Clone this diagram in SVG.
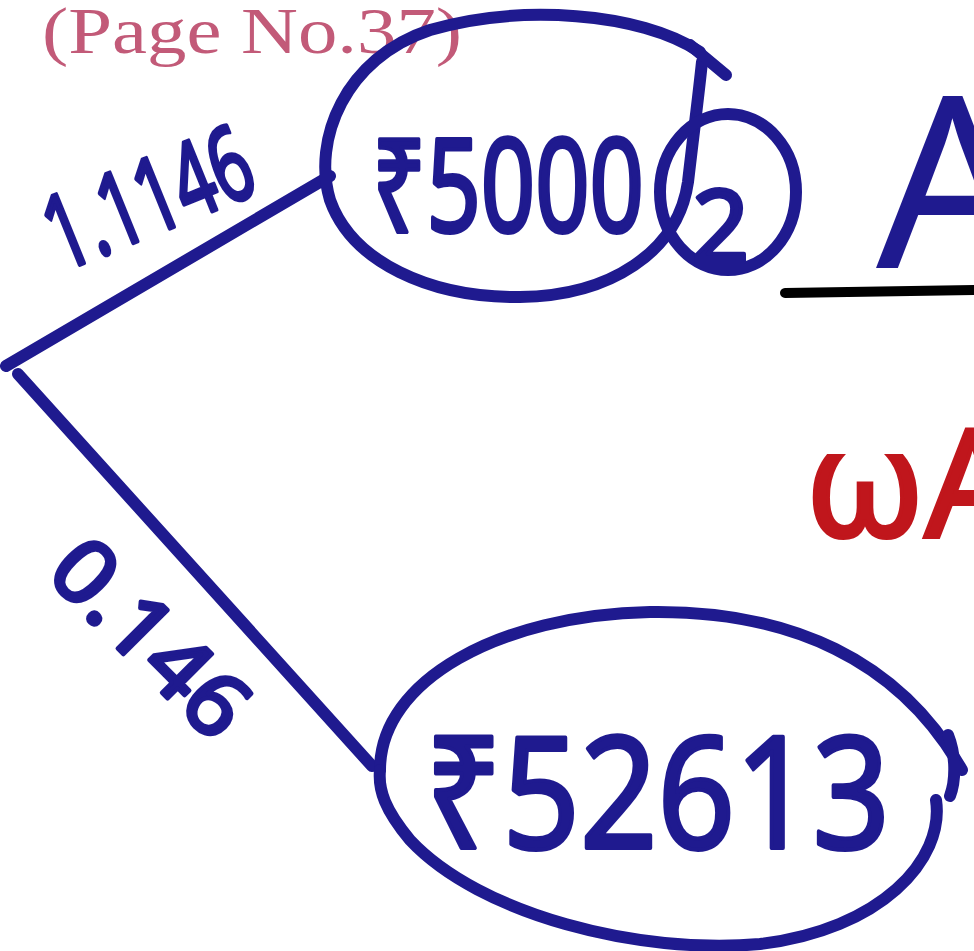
<svg xmlns="http://www.w3.org/2000/svg" width="974" height="951" viewBox="0 0 974 951">
<style>
.ink{fill:none;stroke:#1f1a8f;stroke-width:12;stroke-linecap:round;stroke-linejoin:round}
.hw{font-family:"Noto Sans","DejaVu Sans",sans-serif;fill:#1f1a8f;stroke:#1f1a8f;stroke-width:4;stroke-linejoin:round}
.red{font-family:"Noto Sans","DejaVu Sans",sans-serif;fill:#c0161c;stroke:#c0161c;stroke-width:4}
</style>
<rect width="974" height="951" fill="#ffffff"/>
<text x="42" y="53" font-family="'Liberation Serif',serif" font-size="66" fill="#c25a78" textLength="420" lengthAdjust="spacingAndGlyphs">(Page No.37)</text>
<g id="connectors">
<path class="ink" d="M 6 366 L 330 176"/>
<path class="ink" d="M 18 374 L 372 766"/>
<text class="hw" font-size="104" textLength="215" lengthAdjust="spacingAndGlyphs" transform="translate(62,272) rotate(-22)">1.1146</text>
<text class="hw" font-size="88" textLength="240" lengthAdjust="spacingAndGlyphs" transform="translate(44,575) rotate(45)">0.146</text>
</g>
<g id="node-top">
<path class="ink" d="M 700 52 C 640 12, 520 4, 430 30 C 345 58, 312 140, 330 200 C 352 262, 430 298, 520 297 C 610 296, 678 252, 688 182 C 694 130, 698 100, 702 62"/>
<path class="ink" d="M 690 45 L 726 75"/>
<text class="hw" x="372" y="232" font-size="130" textLength="272" lengthAdjust="spacingAndGlyphs">₹5000</text>
</g>
<g id="node-top-mark">
<ellipse class="ink" cx="728" cy="192" rx="68" ry="78" stroke-width="13"/>
<text class="hw" x="692" y="262" font-size="100">2</text>
</g>
<g id="node-bottom">
<path class="ink" d="M 380 770 C 380 680, 500 615, 650 612 C 790 610, 900 660, 962 770"/>
<path class="ink" d="M 936 800 C 945 860, 880 930, 760 944 C 640 955, 480 915, 410 840 C 385 810, 378 790, 380 770"/>
<path class="ink" d="M 948 735 C 956 755, 956 780, 950 796"/>
<text class="hw" x="425" y="848" font-size="155" textLength="465" lengthAdjust="spacingAndGlyphs">₹52613</text>
</g>
<g id="side-notes">
<text x="876" y="268" font-family="'Noto Sans','DejaVu Sans',sans-serif" font-size="240" fill="#1f1a8f">A</text>
<path d="M 785 293 L 974 290" stroke="#000" stroke-width="10" stroke-linecap="round"/>
<text class="red" x="805" y="537" font-size="150">ωA</text>
</g>
</svg>
